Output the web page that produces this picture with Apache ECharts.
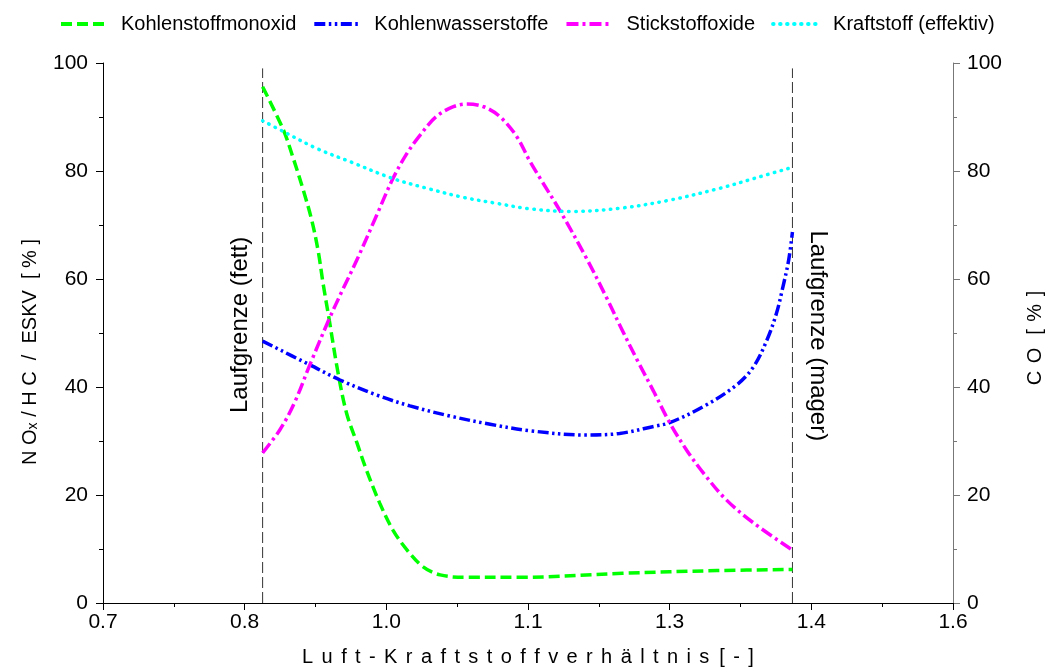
<!DOCTYPE html>
<html><head><meta charset="utf-8">
<script src="https://cdn.jsdelivr.net/npm/echarts@6/dist/echarts.min.js"></script>
<style>html,body{margin:0;padding:0;background:#fff}#c{width:1050px;height:671px}</style>
</head><body><div id="c"></div>
<script>
// ---- data ----
const xTickLabels = ['0.7', '0.8', '1.0', '1.1', '1.3', '1.4', '1.6'];
const seriesNames = ['Kohlenstoffmonoxid', 'Kohlenwasserstoffe', 'Stickstoffoxide', 'Kraftstoff (effektiv)'];

const coLambda = [0.869, 0.891, 0.901, 0.912, 0.921, 0.928, 0.933, 0.939, 0.949, 0.958, 0.969, 0.979, 0.993, 1.007, 1.022, 1.039, 1.057, 1.085, 1.14, 1.25, 1.35, 1.43];
const coValues = [95.6, 87.6, 82.6, 76.5, 70.9, 65.0, 59.2, 53.0, 42.5, 35.1, 29.6, 24.6, 18.5, 13.5, 9.8, 6.7, 5.2, 4.75, 4.75, 5.5, 6.0, 6.2];

const hcLambda = [0.869, 0.919, 0.951, 0.99, 1.025, 1.068, 1.11, 1.152, 1.212, 1.247, 1.283, 1.3, 1.336, 1.371, 1.389, 1.403, 1.413, 1.42, 1.426, 1.43];
const hcValues = [48.5, 44.1, 41.3, 38.5, 36.5, 34.6, 33.1, 31.9, 31.1, 31.4, 32.7, 33.4, 36.4, 40.4, 43.8, 48.7, 53.6, 58.6, 63.5, 68.7];

const noxLambda = [0.869, 0.887, 0.902, 0.919, 0.939, 0.954, 0.969, 0.99, 1.007, 1.022, 1.036, 1.053, 1.071, 1.085, 1.103, 1.12, 1.138, 1.152, 1.163, 1.184, 1.212, 1.233, 1.249, 1.265, 1.283, 1.3, 1.318, 1.336, 1.36, 1.389, 1.43];
const noxValues = [27.8, 32.0, 36.8, 44.1, 52.4, 58.1, 63.6, 71.9, 78.6, 83.3, 86.7, 90.1, 91.9, 92.4, 91.9, 90.1, 86.4, 81.8, 78.6, 72.6, 63.8, 56.6, 50.8, 45.2, 39.2, 33.4, 28.3, 24.0, 19.1, 14.8, 9.8];

const fuelLambda = [0.869, 0.891, 0.926, 0.962, 1.007, 1.043, 1.082, 1.117, 1.152, 1.195, 1.247, 1.3, 1.353, 1.389, 1.43];
const fuelValues = [89.3, 87.3, 84.2, 81.7, 78.6, 76.8, 75.1, 74.0, 73.0, 72.5, 73.1, 74.6, 76.8, 78.6, 80.7];

const limitLambda = [0.869, 1.43];
const limitTop = 99;
const limitNames = ['Laufgrenze (fett)', 'Laufgrenze (mager)'];
const limitLabelTop = [67.8, 69];

const xAxisName = 'L u f t - K r a f t s t o f f v e r h ä l t n i s  [ - ]';
const yLeftName = 'N O{s|x} / H C  /  ESKV  [ % ]';
const yRightName = 'C O  [ % ]';

// ---- chart ----
const FONT = "'Liberation Sans', Arial, sans-serif";
const pairs = (xs, ys) => xs.map((x, i) => [x, ys[i]]);
const spaced = s => s.replace(/ {2}/g, '{w| }').replace(/ (?![^{]*\})/g, '{g| }');
const chart = echarts.init(document.getElementById('c'), null, {renderer: 'canvas'});

function lineSeries(name, data, color, dash, cap, yIdx) {
  return {
    name, type: 'line', data, xAxisIndex: 0, yAxisIndex: yIdx,
    showSymbol: false, symbol: 'none', smooth: 0.35, z: 3,
    lineStyle: {color, width: 3.5, type: dash, cap: cap},
    itemStyle: {color}
  };
}

const series = [
  lineSeries(seriesNames[0], pairs(coLambda, coValues), '#00ff00', [11, 5], 'butt', 1),
  lineSeries(seriesNames[1], pairs(hcLambda, hcValues), '#0000ff', [11, 3.5, 2.5, 3.5, 2.5, 3.5], 'butt', 0),
  lineSeries(seriesNames[2], pairs(noxLambda, noxValues), '#ff00ff', [12, 4, 3, 4], 'butt', 0),
  lineSeries(seriesNames[3], pairs(fuelLambda, fuelValues), '#00ffff', [0.5, 6.5], 'round', 0)
];
limitLambda.forEach((l, i) => {
  series.push({
    name: limitNames[i], type: 'line', data: [[l, 0], [l, limitTop]], xAxisIndex: 0, yAxisIndex: 0,
    symbol: 'none', showSymbol: false, silent: true, z: 2,
    lineStyle: {color: '#333', width: 1, type: [11, 4]}
  });
});

const option = {
  animation: false,
  backgroundColor: '#fff',
  textStyle: {fontFamily: FONT},
  grid: {left: 103, right: 97, top: 63, bottom: 68, containLabel: false, outerBoundsMode: 'none'},
  legend: {
    data: seriesNames, top: 9, left: 54, itemWidth: 46, itemHeight: 14, itemGap: 16,
    itemStyle: {opacity: 0},
    lineStyle: {width: 4},
    textStyle: {fontSize: 20, color: '#000', fontFamily: FONT, padding: [0, 0, 0, 9]}
  },
  xAxis: [
    {type: 'value', min: 0.7, max: 1.6, show: false},
    {
      type: 'value', min: 0, max: 12, interval: 2, position: 'bottom',
      axisLine: {show: true, lineStyle: {color: '#000', width: 1}},
      axisTick: {show: true, length: 7, lineStyle: {color: '#000'}},
      minorTick: {show: true, splitNumber: 2, length: 4, lineStyle: {color: '#000'}},
      splitLine: {show: false},
      axisLabel: {fontSize: 21, color: '#000', fontFamily: FONT, margin: 9,
        formatter: v => xTickLabels[Math.round(v / 2)]},
      name: spaced(xAxisName),
      nameLocation: 'middle', nameGap: 44,
      nameTextStyle: {fontSize: 20, color: '#000', fontFamily: FONT,
        rich: {g: {width: 8.4, fontSize: 20}, w: {width: 10, fontSize: 20}}}
    }
  ],
  yAxis: [
    {
      type: 'value', min: 0, max: 100, interval: 20, position: 'left',
      axisLine: {show: true, lineStyle: {color: '#000', width: 1}},
      axisTick: {show: true, length: 7, lineStyle: {color: '#000'}},
      minorTick: {show: true, splitNumber: 2, length: 4, lineStyle: {color: '#000'}},
      splitLine: {show: false},
      axisLabel: {fontSize: 21, color: '#000', fontFamily: FONT, margin: 15},
      name: yLeftName,
      nameLocation: 'middle', nameGap: 63,
      nameTextStyle: {fontSize: 20, color: '#000', fontFamily: FONT, padding: [0, 38, 0, 0],
        rich: {s: {fontSize: 14, color: '#000', fontFamily: FONT, verticalAlign: 'bottom', padding: [6, 0, 0, 0]}}}
    },
    {
      type: 'value', min: 0, max: 100, interval: 20, position: 'right',
      axisLine: {show: true, lineStyle: {color: '#777', width: 1}},
      axisTick: {show: true, length: 7, lineStyle: {color: '#777'}},
      minorTick: {show: true, splitNumber: 2, length: 4, lineStyle: {color: '#777'}},
      splitLine: {show: false},
      axisLabel: {fontSize: 21, color: '#000', fontFamily: FONT, margin: 14},
      name: spaced(yRightName),
      nameLocation: 'middle', nameGap: 72,
      nameTextStyle: {fontSize: 20, color: '#000', fontFamily: FONT, padding: [0, 10, 0, 0],
        rich: {g: {width: 7.5, fontSize: 20}, w: {width: 13, fontSize: 20}}}
    }
  ],
  series
};
chart.setOption(option);

const pF = chart.convertToPixel({xAxisIndex: 0, yAxisIndex: 0}, [limitLambda[0], limitLabelTop[0]]);
const pM = chart.convertToPixel({xAxisIndex: 0, yAxisIndex: 0}, [limitLambda[1], limitLabelTop[1]]);
chart.setOption({
  graphic: [
    {type: 'text', x: pF[0] - 22, y: pF[1], rotation: Math.PI / 2,
      style: {text: limitNames[0], font: "24px " + FONT, fill: '#000', align: 'right', verticalAlign: 'middle'}},
    {type: 'text', x: pM[0] + 25, y: pM[1], rotation: -Math.PI / 2,
      style: {text: limitNames[1], font: "24px " + FONT, fill: '#000', align: 'left', verticalAlign: 'middle'}}
  ]
});
</script>
</body></html>
